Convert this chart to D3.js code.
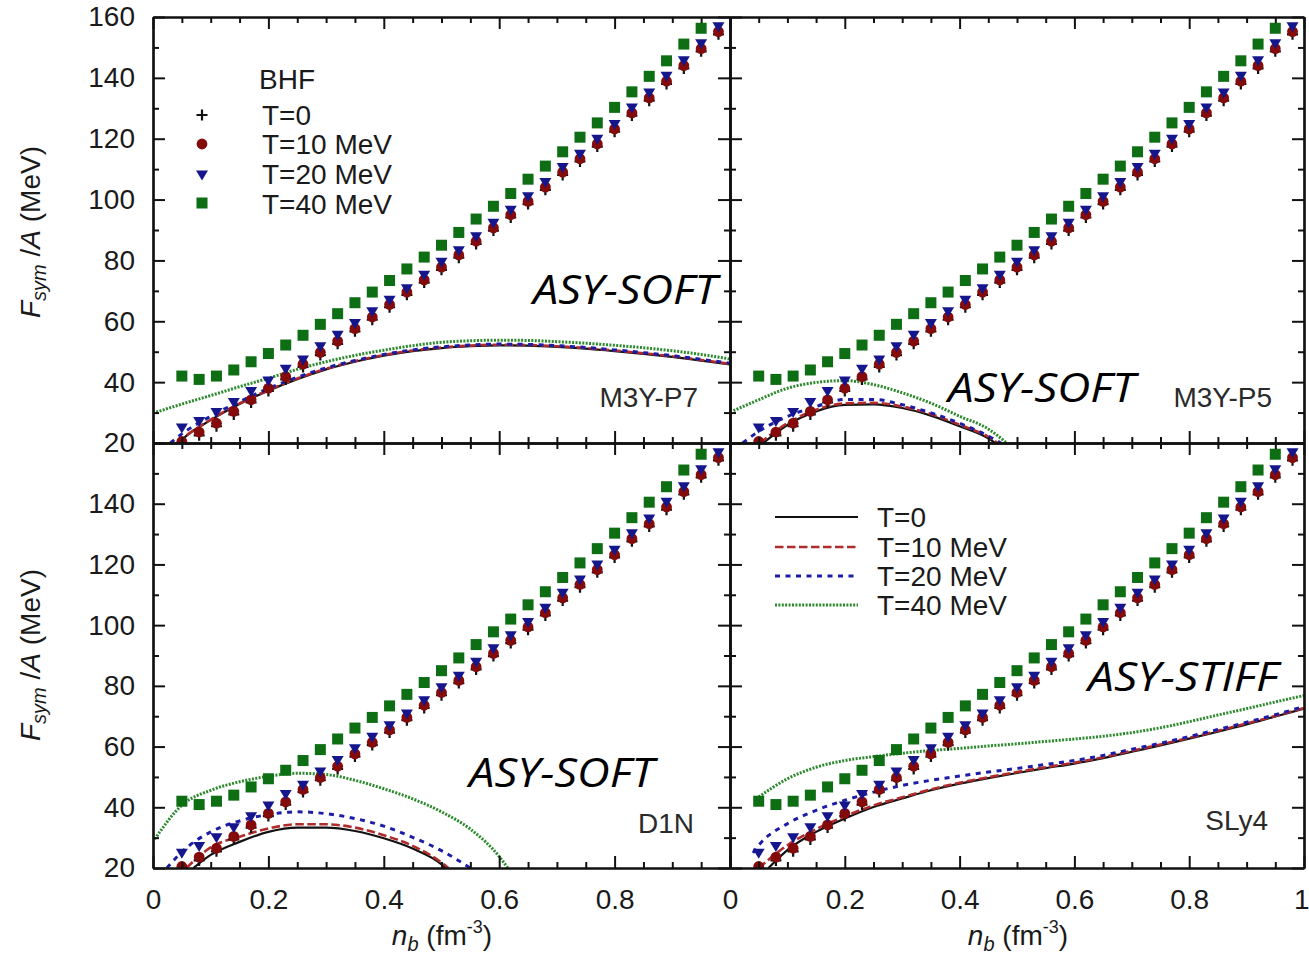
<!DOCTYPE html>
<html><head><meta charset="utf-8">
<script src="https://cdn.jsdelivr.net/npm/d3@7"></script>
<style>body{margin:0;background:#fff} svg{display:block}</style>
</head><body><svg id="c" width="1309" height="963"></svg>
<script>
// ---------------- DATA ----------------
const bhfDensity = [0.05,0.08,0.11,0.14,0.17,0.20,0.23,0.26,0.29,0.32,0.35,0.38,0.41,0.44,0.47,0.50,0.53,0.56,0.59,0.62,0.65,0.68,0.71,0.74,0.77,0.80,0.83,0.86,0.89,0.92,0.95,0.98];
const bhfT0  = [20.0,23.0,26.0,29.9,33.8,37.6,41.4,45.5,49.4,53.1,57.2,61.0,65.1,69.2,73.2,77.4,81.4,85.9,90.3,94.6,99.0,103.7,108.6,113.0,117.9,122.8,128.1,133.0,138.5,143.6,149.2,154.8];
const bhfT10 = [20.5,23.6,26.5,30.4,34.2,38.0,41.8,45.9,49.8,53.5,57.6,61.4,65.5,69.6,73.6,77.8,81.8,86.3,90.7,95.0,99.4,104.1,109.0,113.4,118.3,123.2,128.5,133.4,138.9,144.0,149.6,155.2];
const bhfT20 = [24.9,27.1,30.0,33.3,36.9,40.4,44.2,47.3,51.6,55.4,59.3,63.1,66.9,70.7,75.1,79.4,83.2,87.8,92.2,96.5,100.9,105.6,110.5,114.9,119.8,124.7,130.1,135.0,140.5,145.6,151.2,156.8];
const bhfT40 = [42.0,40.9,42.0,44.0,46.7,49.4,52.2,55.4,59.0,62.5,66.1,69.6,73.4,77.2,81.1,85.0,89.2,93.6,97.8,102.0,106.7,111.0,115.7,120.5,125.2,130.3,135.4,140.5,145.6,151.1,156.3,null];

// M3Y-P7
const p7T0  = [[0.045,20],[0.05,21.0],[0.1,27.5],[0.15,32.8],[0.2,37.2],[0.25,41.0],[0.3,44.2],[0.35,46.7],[0.4,48.7],[0.45,50.2],[0.5,51.2],[0.55,51.8],[0.6,52.1],[0.65,52.0],[0.7,51.6],[0.75,51.0],[0.8,50.2],[0.85,49.3],[0.9,48.3],[0.95,47.1],[1.0,45.8]];
const p7T10 = [[0.042,20],[0.05,21.3],[0.1,27.7],[0.15,33.0],[0.2,37.4],[0.25,41.2],[0.3,44.4],[0.35,46.9],[0.4,48.9],[0.45,50.4],[0.5,51.4],[0.55,52.0],[0.6,52.3],[0.65,52.2],[0.7,51.8],[0.75,51.2],[0.8,50.4],[0.85,49.5],[0.9,48.5],[0.95,47.3],[1.0,46.0]];
const p7T20 = [[0.03,20],[0.05,23.0],[0.1,28.8],[0.15,33.6],[0.2,37.9],[0.25,41.6],[0.3,44.7],[0.35,47.1],[0.4,49.1],[0.45,50.6],[0.5,51.6],[0.55,52.2],[0.6,52.5],[0.65,52.4],[0.7,52.0],[0.75,51.4],[0.8,50.6],[0.85,49.7],[0.9,48.7],[0.95,47.5],[1.0,46.2]];
const p7T40 = [[0,29.8],[0.05,32.8],[0.1,35.6],[0.15,38.5],[0.2,41.3],[0.25,44.2],[0.3,46.7],[0.35,48.8],[0.4,50.5],[0.45,52.0],[0.5,53.1],[0.55,53.6],[0.6,53.8],[0.65,53.7],[0.7,53.3],[0.75,52.8],[0.8,52.1],[0.85,51.3],[0.9,50.3],[0.95,49.1],[1.0,47.6]];
// M3Y-P5
const p5T0  = [[0.058,20],[0.1,25.9],[0.15,30.4],[0.2,32.5],[0.25,32.7],[0.3,31.5],[0.35,29.0],[0.4,25.5],[0.45,21.5],[0.462,20]];
const p5T10 = [[0.052,20],[0.1,26.5],[0.15,30.9],[0.2,33.0],[0.25,33.2],[0.3,32.0],[0.35,29.5],[0.4,26.0],[0.45,22.0],[0.466,20]];
const p5T20 = [[0.022,20],[0.05,23.8],[0.1,28.7],[0.15,32.0],[0.2,34.3],[0.25,34.3],[0.3,32.6],[0.35,29.9],[0.4,26.5],[0.45,22.3],[0.472,20]];
const p5T40 = [[0.006,30.6],[0.05,34.2],[0.1,38.0],[0.15,39.9],[0.2,40.5],[0.25,39.2],[0.3,36.5],[0.35,33.1],[0.4,28.8],[0.45,24.6],[0.482,20]];
// D1N
const d1T0  = [[0.07,20],[0.1,24.3],[0.15,28.6],[0.2,31.9],[0.25,33.3],[0.3,33.3],[0.35,32.2],[0.4,29.8],[0.45,26.4],[0.5,21.2],[0.507,20]];
const d1T10 = [[0.058,20],[0.1,26.8],[0.15,30.3],[0.2,33.0],[0.25,34.4],[0.3,34.4],[0.35,33.3],[0.4,30.8],[0.45,27.3],[0.5,21.8],[0.512,20]];
const d1T20 = [[0.024,20],[0.05,25.3],[0.1,31.9],[0.15,35.5],[0.2,37.6],[0.25,38.5],[0.3,37.9],[0.35,36.3],[0.4,33.8],[0.45,30.1],[0.5,25.7],[0.55,20]];
const d1T40 = [[0.003,29.5],[0.05,40.7],[0.1,45.6],[0.15,48.4],[0.2,50.2],[0.25,51.2],[0.3,50.8],[0.35,48.9],[0.4,46.1],[0.45,42.8],[0.5,38.5],[0.55,32.8],[0.6,23.8],[0.615,20]];
// SLy4
const slT0  = [[0.067,20],[0.1,25.9],[0.15,31.9],[0.2,36.3],[0.25,40.1],[0.3,42.9],[0.35,45.6],[0.4,47.8],[0.45,49.6],[0.5,51.3],[0.55,52.9],[0.6,54.4],[0.65,56.2],[0.7,58.3],[0.75,60.4],[0.8,62.6],[0.85,64.9],[0.9,67.3],[0.95,69.9],[1.0,72.5]];
const slT10 = [[0.05,20],[0.1,27.5],[0.15,32.8],[0.2,37.0],[0.25,40.6],[0.3,43.3],[0.35,45.9],[0.4,48.1],[0.45,49.9],[0.5,51.6],[0.55,53.2],[0.6,54.7],[0.65,56.5],[0.7,58.6],[0.75,60.7],[0.8,62.9],[0.85,65.2],[0.9,67.6],[0.95,70.1],[1.0,72.7]];
const slT20 = [[0.04,25.0],[0.05,27.5],[0.1,34.6],[0.15,39.0],[0.2,42.3],[0.25,45.0],[0.3,47.2],[0.35,48.9],[0.4,50.3],[0.45,51.6],[0.5,52.8],[0.55,54.1],[0.6,55.4],[0.65,57.1],[0.7,59.1],[0.75,61.1],[0.8,63.3],[0.85,65.6],[0.9,68.0],[0.95,70.5],[1.0,73.2]];
const slT40 = [[0.05,43.4],[0.1,49.4],[0.15,53.2],[0.2,55.4],[0.25,56.7],[0.3,57.8],[0.35,58.7],[0.4,59.4],[0.45,60.2],[0.5,60.9],[0.55,61.7],[0.6,62.5],[0.65,63.4],[0.7,64.6],[0.75,66.2],[0.8,68.2],[0.85,70.4],[0.9,72.5],[0.95,74.7],[1.0,76.8]];

const xMajorTicks = [0,0.2,0.4,0.6,0.8,1];
const xMinorTicks = [0.05,0.1,0.15,0.25,0.3,0.35,0.45,0.5,0.55,0.65,0.7,0.75,0.85,0.9,0.95];
const xTickLabels = ["0","0.2","0.4","0.6","0.8","1"];
const yMajorTicks = [20,40,60,80,100,120,140,160];
const yMinorTicks = [30,50,70,90,110,130,150];
const yTickLabels = ["20","40","60","80","100","120","140","160"];
const tempLabels = ["T=0","T=10 MeV","T=20 MeV","T=40 MeV"];
const modelNames = ["M3Y-P7","M3Y-P5","D1N","SLy4"];
const stiffness = ["ASY-SOFT","ASY-SOFT","ASY-SOFT","ASY-STIFF"];

// ---------------- STYLE ----------------
const FONT = "'Liberation Sans', Arial, Helvetica, sans-serif";
const FS = 28;
const lineStyles = [
  {color:"#111111", width:2.2, dash:null},
  {color:"#b02c2c", width:2.6, dash:"8.5,3.5"},
  {color:"#1c1ca6", width:3, dash:"5,5.5"},
  {color:"#2b8a2b", width:3, dash:"2,1.4"}
];
const markColors = {cross:"#111111", circle:"#850b0b", tri:"#16168c", square:"#0d6e14"};

const svg = d3.select("#c");
const defs = svg.append("defs");

const panels = [
  {curves:[p7T0,p7T10,p7T20,p7T40], box:[153,730,17,443], xLab:false, yLab:true,  y160:true,
   model:{x:698,y:407}, asy:{x:533,y:304,len:184}},
  {curves:[p5T0,p5T10,p5T20,p5T40], box:[730,1304,17,443], xLab:false, yLab:false, y160:true,
   model:{x:1272,y:407}, asy:{x:948,y:402,len:187}},
  {curves:[d1T0,d1T10,d1T20,d1T40], box:[153,730,443,868], xLab:true, yLab:true, y160:false, lastX:false,
   model:{x:694,y:833}, asy:{x:469,y:787,len:185}},
  {curves:[slT0,slT10,slT20,slT40], box:[730,1304,443,868], xLab:true, yLab:false, y160:false, lastX:true,
   model:{x:1268,y:830}, asy:{x:1088,y:691,len:190}}
];

const triPath = "M-6,-4.5L6,-4.5L0,5.5Z";
const crossPath = "M-5.5,0H5.5M0,-5.5V5.5";

panels.forEach((p, i) => {
  const [x0,x1,yT,yB] = p.box;
  const x = d3.scaleLinear().domain([0,1]).range([x0,x1]);
  const y = d3.scaleLinear().domain([20,160]).range([yB,yT]);
  const cid = "clip"+i;
  defs.append("clipPath").attr("id",cid).append("rect")
    .attr("x",x0).attr("y",yT).attr("width",x1-x0).attr("height",yB-yT);
  const g = svg.append("g");
  const plot = g.append("g").attr("clip-path",`url(#${cid})`);

  const line = d3.line().x(d=>x(d[0])).y(d=>y(d[1])).curve(d3.curveMonotoneX);
  p.curves.forEach((c, k) => {
    const s = lineStyles[k];
    plot.append("path").attr("d", line(c)).attr("fill","none")
      .attr("stroke", s.color).attr("stroke-width", s.width)
      .attr("stroke-dasharray", s.dash);
  });

  // BHF points
  const pts = bhfDensity.map((d,j)=>({x:d, t0:bhfT0[j], t10:bhfT10[j], t20:bhfT20[j], t40:bhfT40[j]}));
  plot.selectAll(".cr").data(pts).join("path").attr("d",crossPath)
    .attr("transform",d=>`translate(${x(d.x)},${y(d.t0)+1.5})`)
    .attr("stroke",markColors.cross).attr("stroke-width",2.2).attr("fill","none");
  plot.selectAll(".ci").data(pts).join("circle")
    .attr("cx",d=>x(d.x)).attr("cy",d=>y(d.t10)).attr("r",5.4).attr("fill",markColors.circle);
  plot.selectAll(".tr").data(pts).join("path").attr("d",triPath)
    .attr("transform",d=>`translate(${x(d.x)},${y(d.t20)})`).attr("fill",markColors.tri);
  plot.selectAll(".sq").data(pts.filter(d=>d.t40!==null)).join("rect")
    .attr("x",d=>x(d.x)-5.5).attr("y",d=>y(d.t40)-5.5).attr("width",11).attr("height",11)
    .attr("fill",markColors.square);

  // Axes (inward ticks on all four sides)
  const styleAxis = a => {
    a.selectAll("path.domain").attr("stroke","#111").attr("stroke-width",2.2);
    a.selectAll(".tick line").attr("stroke","#111").attr("stroke-width",2);
    a.selectAll(".tick text").attr("font-family",FONT).attr("font-size",FS).attr("fill","#1a1a1a");
  };
  const xFmt = (d)=>{
    if(!p.xLab) return "";
    if(d===1 && !p.lastX) return "";
    return xTickLabels[xMajorTicks.indexOf(d)];
  };
  const yFmt = (d)=>{
    if(!p.yLab) return "";
    if(d===160 && !p.y160) return "";
    return yTickLabels[yMajorTicks.indexOf(d)];
  };
  const mk = (gen, tr) => g.append("g").attr("transform", tr).call(gen).call(styleAxis);
  const bx = mk(d3.axisBottom(x).tickValues(xMajorTicks).tickSizeInner(-12).tickSizeOuter(0).tickPadding(21).tickFormat(xFmt), `translate(0,${yB})`);
  // keep the last "1" label inside the picture
  bx.selectAll(".tick text").filter(d=>d===1).attr("text-anchor","end").attr("dx",5);
  mk(d3.axisBottom(x).tickValues(xMinorTicks).tickSizeInner(-6).tickSizeOuter(0).tickFormat(""), `translate(0,${yB})`);
  mk(d3.axisTop(x).tickValues(xMajorTicks).tickSizeInner(-12).tickSizeOuter(0).tickFormat(""), `translate(0,${yT})`);
  mk(d3.axisTop(x).tickValues(xMinorTicks).tickSizeInner(-6).tickSizeOuter(0).tickFormat(""), `translate(0,${yT})`);
  mk(d3.axisLeft(y).tickValues(yMajorTicks).tickSizeInner(-12).tickSizeOuter(0).tickPadding(18).tickFormat(yFmt), `translate(${x0},0)`);
  mk(d3.axisLeft(y).tickValues(yMinorTicks).tickSizeInner(-6).tickSizeOuter(0).tickFormat(""), `translate(${x0},0)`);
  mk(d3.axisRight(y).tickValues(yMajorTicks).tickSizeInner(-12).tickSizeOuter(0).tickFormat(""), `translate(${x1},0)`);
  mk(d3.axisRight(y).tickValues(yMinorTicks).tickSizeInner(-6).tickSizeOuter(0).tickFormat(""), `translate(${x1},0)`);

  // labels
  g.append("text").attr("x",p.model.x).attr("y",p.model.y).attr("text-anchor","end")
    .attr("font-family",FONT).attr("font-size",FS).attr("fill","#2a2a2a").text(modelNames[i]);
  g.append("text").attr("x",p.asy.x).attr("y",p.asy.y)
    .attr("font-family","'Open Sans', 'Noto Sans', sans-serif").attr("font-style","italic")
    .attr("font-size",40).attr("fill","#000")
    .attr("textLength",p.asy.len).attr("lengthAdjust","spacingAndGlyphs").text(stiffness[i]);
});

// Y axis titles
[232, 655].forEach(cy => {
  const t = svg.append("text").attr("transform",`translate(40,${cy}) rotate(-90)`)
    .attr("text-anchor","middle").attr("font-family",FONT).attr("font-size",FS).attr("fill","#1a1a1a");
  t.append("tspan").attr("font-style","italic").text("F");
  t.append("tspan").attr("font-style","italic").attr("font-size",20).attr("dy",6).text("sym");
  t.append("tspan").attr("dy",-6).text(" /");
  t.append("tspan").attr("font-style","italic").text("A");
  t.append("tspan").text(" (MeV)");
});
// X axis titles
[442, 1018].forEach(cx => {
  const t = svg.append("text").attr("x",cx).attr("y",945)
    .attr("text-anchor","middle").attr("font-family",FONT).attr("font-size",FS).attr("fill","#1a1a1a");
  t.append("tspan").attr("font-style","italic").text("n");
  t.append("tspan").attr("font-style","italic").attr("font-size",20).attr("dy",6).text("b");
  t.append("tspan").attr("dy",-6).text(" (fm");
  t.append("tspan").attr("font-size",18).attr("dy",-12).text("-3");
  t.append("tspan").attr("dy",12).text(")");
});

// BHF legend (top-left)
const lg = svg.append("g");
lg.append("text").attr("x",259).attr("y",89).attr("font-family",FONT).attr("font-size",FS).attr("fill","#1a1a1a").text("BHF");
const symRows = [115,144,175,203];
const textRows = [125,154,184,214];
lg.append("path").attr("d",crossPath).attr("transform",`translate(202,${symRows[0]})`).attr("stroke",markColors.cross).attr("stroke-width",2.2);
lg.append("circle").attr("cx",202).attr("cy",symRows[1]).attr("r",5.4).attr("fill",markColors.circle);
lg.append("path").attr("d",triPath).attr("transform",`translate(202,${symRows[2]})`).attr("fill",markColors.tri);
lg.append("rect").attr("x",196.5).attr("y",symRows[3]-5.5).attr("width",11).attr("height",11).attr("fill",markColors.square);
tempLabels.forEach((t,k)=>{
  lg.append("text").attr("x",262).attr("y",textRows[k]).attr("font-family",FONT).attr("font-size",FS).attr("fill","#1a1a1a").text(t);
});

// Line legend (bottom-right)
const lineRows = [517,547,576,605];
tempLabels.forEach((t,k)=>{
  const s = lineStyles[k];
  svg.append("line").attr("x1",775).attr("x2",858).attr("y1",lineRows[k]).attr("y2",lineRows[k])
    .attr("stroke",s.color).attr("stroke-width",s.width).attr("stroke-dasharray",s.dash);
  svg.append("text").attr("x",877).attr("y",lineRows[k]+10).attr("font-family",FONT).attr("font-size",FS).attr("fill","#1a1a1a").text(t);
});
</script></body></html>
